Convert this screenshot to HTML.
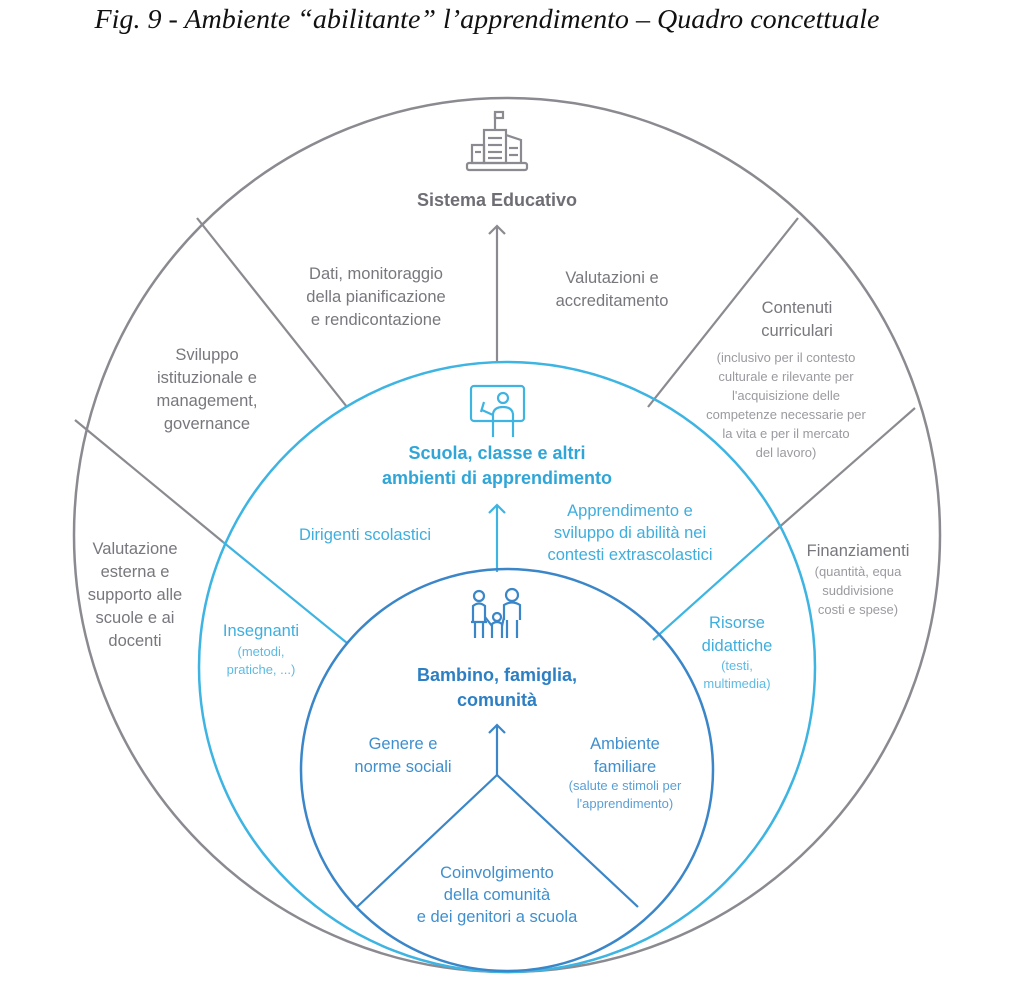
<!DOCTYPE html>
<html><head><meta charset="utf-8"><style>
html,body{margin:0;padding:0;background:#fff;}
svg{display:block;}
text{font-family:"Liberation Sans",sans-serif;}
.g{fill:#77777d;font-size:16.5px;}
.gs{fill:#9a9aa0;font-size:13px;}
.lb{fill:#3eaede;font-size:16.5px;}
.lbs{fill:#5cbbe4;font-size:13px;}
.db{fill:#3f8fce;font-size:16.5px;}
.dbs{fill:#5a9fd6;font-size:13px;}
</style></head><body>
<svg width="1024" height="993" viewBox="0 0 1024 993" xmlns="http://www.w3.org/2000/svg">
<text x="487" y="28" text-anchor="middle" style="font-family:'Liberation Serif',serif;font-style:italic;font-size:27px;fill:#111" textLength="785" lengthAdjust="spacingAndGlyphs">Fig. 9 - Ambiente “abilitante” l’apprendimento – Quadro concettuale</text>

<!-- outer -->
<ellipse cx="507" cy="535" rx="433" ry="437" fill="none" stroke="#8a8a90" stroke-width="2.5"/>
<g stroke="#8a8a90" stroke-width="2.2" fill="none">
<line x1="197" y1="218" x2="347" y2="407"/>
<line x1="75" y1="420" x2="223" y2="542"/>
<line x1="798" y1="218" x2="648" y2="407"/>
<line x1="915" y1="408" x2="768" y2="537"/>
<line x1="497" y1="363" x2="497" y2="226"/>
<polyline points="489,234 497,226 505,234"/>
</g>
<!-- middle -->
<ellipse cx="507" cy="667" rx="308" ry="305" fill="none" stroke="#3eb4e2" stroke-width="2.5"/>
<g stroke="#3eb4e2" stroke-width="2.2" fill="none">
<line x1="223" y1="542" x2="347" y2="643"/>
<line x1="768" y1="537" x2="653" y2="640"/>
<line x1="497" y1="572" x2="497" y2="505"/>
<polyline points="489,513 497,505 505,513"/>
</g>
<!-- inner -->
<ellipse cx="507" cy="770" rx="206" ry="201" fill="none" stroke="#3a86c8" stroke-width="2.5"/>
<g stroke="#3a86c8" stroke-width="2.2" fill="none">
<polyline points="357,907 497,775 638,907"/>
<line x1="497" y1="775" x2="497" y2="725"/>
<polyline points="489,733 497,725 505,733"/>
</g>

<!-- building icon -->
<g stroke="#8a8a90" stroke-width="2.2" fill="none">
<rect x="467" y="163" width="60" height="7" rx="2"/>
<rect x="472" y="145" width="12" height="18"/>
<rect x="484" y="130" width="22" height="33"/>
<path d="M506 135 L521 140 L521 163"/>
<line x1="495" y1="130" x2="495" y2="113"/>
<rect x="495" y="112" width="8" height="6"/>
<line x1="488" y1="138" x2="502" y2="138"/><line x1="488" y1="145" x2="502" y2="145"/><line x1="488" y1="152" x2="502" y2="152"/><line x1="488" y1="158" x2="502" y2="158"/>
<line x1="509" y1="148" x2="518" y2="148"/><line x1="509" y1="155" x2="518" y2="155"/>
<line x1="475" y1="152" x2="481" y2="152"/>
</g>
<!-- teacher icon -->
<g stroke="#3eb4e2" stroke-width="2.2" fill="none">
<rect x="471" y="386" width="53" height="35" rx="3"/>
<circle cx="503" cy="398" r="5"/>
<path d="M493 437 L493 414 Q494 407 503 407 Q512 407 513 414 L513 437"/>
<path d="M493 415 L482 410 M484 402 L481 412"/>
</g>
<!-- family icon -->
<g stroke="#3a86c8" stroke-width="2.2" fill="none">
<circle cx="479" cy="596" r="5"/>
<path d="M473 622 L473 606 Q479 601 485 606 L485 622 M475 622 L475 638 M483 622 L483 638 M471 622 L487 622"/>
<circle cx="512" cy="595" r="6"/>
<path d="M504 620 L504 605 Q512 600 520 605 L520 620 M507 620 L507 638 M517 620 L517 638"/>
<circle cx="497" cy="617" r="4"/>
<path d="M492 638 L492 624 Q497 620 502 624 L502 638"/>
<path d="M485 617 L492 626 M504 617 L502 626"/>
</g>

<!-- gray labels -->
<text class="g" x="497" y="206" text-anchor="middle" style="font-weight:bold;font-size:18px;fill:#6e6e74">Sistema Educativo</text>
<g class="g" text-anchor="middle">
<text x="376" y="279">Dati, monitoraggio</text>
<text x="376" y="302">della pianificazione</text>
<text x="376" y="325">e rendicontazione</text>
<text x="612" y="283">Valutazioni e</text>
<text x="612" y="306">accreditamento</text>
<text x="207" y="360">Sviluppo</text>
<text x="207" y="383">istituzionale e</text>
<text x="207" y="406">management,</text>
<text x="207" y="429">governance</text>
<text x="135" y="554">Valutazione</text>
<text x="135" y="577">esterna e</text>
<text x="135" y="600">supporto alle</text>
<text x="135" y="623">scuole e ai</text>
<text x="135" y="646">docenti</text>
<text x="797" y="313">Contenuti</text>
<text x="797" y="336">curriculari</text>
<text x="858" y="556">Finanziamenti</text>
</g>
<g class="gs" text-anchor="middle">
<text x="786" y="362">(inclusivo per il contesto</text>
<text x="786" y="381">culturale e rilevante per</text>
<text x="786" y="400">l'acquisizione delle</text>
<text x="786" y="419">competenze necessarie per</text>
<text x="786" y="438">la vita e per il mercato</text>
<text x="786" y="457">del lavoro)</text>
<text x="858" y="576">(quantità, equa</text>
<text x="858" y="595">suddivisione</text>
<text x="858" y="614">costi e spese)</text>
</g>
<!-- light blue labels -->
<g class="lb" text-anchor="middle">
<text x="497" y="459" style="font-weight:bold;font-size:18px;fill:#30a6d8">Scuola, classe e altri</text>
<text x="497" y="484" style="font-weight:bold;font-size:18px;fill:#30a6d8">ambienti di apprendimento</text>
<text x="365" y="540">Dirigenti scolastici</text>
<text x="630" y="516">Apprendimento e</text>
<text x="630" y="538">sviluppo di abilità nei</text>
<text x="630" y="560">contesti extrascolastici</text>
<text x="261" y="636">Insegnanti</text>
<text x="737" y="628">Risorse</text>
<text x="737" y="651">didattiche</text>
</g>
<g class="lbs" text-anchor="middle">
<text x="261" y="656">(metodi,</text>
<text x="261" y="674">pratiche, ...)</text>
<text x="737" y="670">(testi,</text>
<text x="737" y="688">multimedia)</text>
</g>
<!-- dark blue labels -->
<g class="db" text-anchor="middle">
<text x="497" y="681" style="font-weight:bold;font-size:18px;fill:#2d7fc4">Bambino, famiglia,</text>
<text x="497" y="706" style="font-weight:bold;font-size:18px;fill:#2d7fc4">comunità</text>
<text x="403" y="749">Genere e</text>
<text x="403" y="772">norme sociali</text>
<text x="625" y="749">Ambiente</text>
<text x="625" y="772">familiare</text>
<text x="497" y="878">Coinvolgimento</text>
<text x="497" y="900">della comunità</text>
<text x="497" y="922">e dei genitori a scuola</text>
</g>
<g class="dbs" text-anchor="middle">
<text x="625" y="790">(salute e stimoli per</text>
<text x="625" y="808">l'apprendimento)</text>
</g>
</svg>
</body></html>
